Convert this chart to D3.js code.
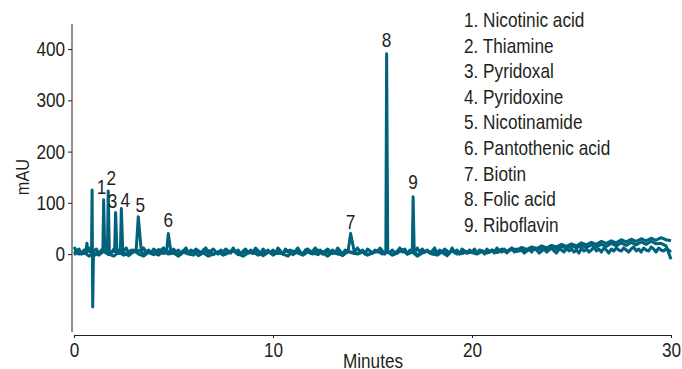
<!DOCTYPE html>
<html lang="en">
<head>
  <meta charset="UTF-8">
  <title>Water-soluble vitamins chromatogram</title>
  <style>
    body {
      margin: 0;
      background: #fff;
      overflow: hidden;
    }

    text {
      font-family: "Liberation Sans", Arial, sans-serif;
      fill: #231f20;
    }

    .axis path, .axis line {
      stroke: #231f20;
      stroke-width: 1px;
    }

    .trace {
      fill: none;
      stroke: #00637b;
      stroke-width: 3px;
      stroke-linejoin: round;
    }
  </style>
</head>
<body>
  <script src="https://d3js.org/d3.v7.min.js"></script>
  <script>
    const width = 682;
    const height = 369;
    const squeeze = 0.86; // the original type is a narrow sans

    // peaks (minutes, mAU)
    const peakLabels = ["1", "2", "3", "4", "5", "6", "7", "8", "9"];
    const peakTimes = [1.49, 1.72, 2.09, 2.38, 3.23, 4.74, 13.9, 15.71, 17.04];
    const peakHeights = [106, 123, 81, 89, 73, 40, 40, 391, 112];
    const peakHalfWidths = [0.04, 0.04, 0.05, 0.05, 0.11, 0.09, 0.13, 0.04, 0.04];

    const compoundNames = [
      "Nicotinic acid", "Thiamine", "Pyridoxal", "Pyridoxine", "Nicotinamide",
      "Pantothenic acid", "Biotin", "Folic acid", "Riboflavin"
    ];

    // injection disturbance
    const injectionTimes = [0.6, 0.65, 0.7, 0.88, 0.91, 0.94, 0.98];
    const injectionValues = [6, 21, 5, 5, 125, -103, 4];

    // baseline of run A, every 0.125 min
    const runA = [
      14, 6, 10, 0, 8, 4, 12, 2, 6, 10, 0, 8, 4, 12, 6, 2, 10, 4, 8, 0,
      6, 12, 2, 8, 4, 10, 0, 6, 12, 4, 8, 2, 10, 6, 0, 8, 12, 4, 6, 2,
      10, 4, 8, 0, 6, 12, 2, 8, 4, 10, 6, 0, 8, 12, 2, 6, 10, 4, 0, 8,
      4, 10, 6, 2, 12, 4, 8, 0, 6, 10, 2, 8, 4, 12, 6, 0, 10, 4, 8, 2,
      8, 2, 12, 6, 0, 10, 4, 8, 2, 6, 12, 4, 0, 8, 10, 2, 6, 12, 4, 8,
      0, 6, 10, 4, 8, 2, 12, 6, 0, 8, 4, 10, 2, 6, 12, 4, 8, 0, 10, 6,
      2, 8, 4, 12, 6, 0, 10, 4, 8, 2, 6, 12, 4, 10, 0, 8, 6, 2, 12, 4,
      10, 4, 8, 2, 6, 12, 0, 8, 4, 10, 6, 2, 12, 4, 8, 0, 10, 6, 2, 8,
      4, 10, 2, 8, 6, 0, 10, 4, 8, 2, 12, 6, 4, 10, 2, 8, 12, 4, 10, 6,
      8, 2, 6, 10, 4, 12, 8, 2, 6, 10, 4, 8, 12, 6, 2, 10, 8, 4, 12, 6,
      10, 4, 8, 2, 12, 6, 10, 4, 8, 14, 6, 10, 4, 12, 8, 2, 10, 6, 12, 8,
      6, 12, 8, 4, 10, 14, 6, 10, 4, 12, 8, 6, 14, 10, 4, 12, 8, 6, 10, 8, 4
    ];

    // runs B and C, every 0.25 min
    const runB = [
      6, 0, 4, -4, 2, -2, 6, 0, -4, 4, -2, 2, 8, 0, -4, 4, 2, -2, 6, 0,
      2, -4, 4, 0, -2, 6, 2, -4, 0, 4, -2, 2, 6, 0, -4, 2, 4, -2, 0, 6,
      -2, 4, 0, -4, 6, 2, -2, 4, 0, 8, 2, -4, 4, 0, -2, 6, 2, 0, 4, -2,
      2, 6, 0, 4, -2, 2, 8, 0, 4, -4, 2, 6, 0, -2, 4, 2, 6, 0, 4, 2,
      4, 1, 7, 3, 8, 5, 10, 6, 11, 8, 13, 9, 14, 11, 16, 12, 17, 14, 19, 15,
      20, 16, 22, 18, 23, 19, 25, 21, 26, 22, 28, 24, 29, 25, 30, 26, 31, 27, 32, 28, 26
    ];
    const runC = [
      -1, 5, 1, 7, -3, 3, 5, -1, 7, 1, 3, -3, 5, 7, 1, 3, -1, 9, 1, 5,
      3, -1, 7, 1, 5, -3, 3, 7, -1, 5, 1, 3, 9, -1, 3, 5, 1, 7, -3, 3,
      5, 1, 3, 7, -1, 5, 1, 9, 3, -1, 5, 3, 1, 7, -3, 5, 3, 1, 7, -1,
      3, 7, 1, 5, -1, 3, 9, 1, 5, -1, 3, 7, 1, 5, 3, -3, 7, 3, 1, 5,
      3, 0, 5, 2, 6, 3, 7, 4, 9, 5, 10, 6, 11, 8, 12, 9, 14, 10, 15, 11,
      16, 12, 17, 13, 18, 14, 19, 15, 21, 16, 22, 17, 23, 18, 24, 19, 25, 20, 21, 16, -10
    ];

    const yTicks = [0, 100, 200, 300, 400];
    const xTicks = [0, 10, 20, 30];

    // label nudges (px) so the crowded labels sit like the original
    const labelDx = [-2, 3, -3, 4, 2, 0, 0, 0, 0];
    const labelDy = [-6, -6, -5, -1, -5, -7, -5, -7, -8];

    const svg = d3.select("body").append("svg")
      .attr("width", width)
      .attr("height", height);

    const x = d3.scaleLinear().domain([0, 30]).range([74, 671]);
    const y = d3.scaleLinear().domain([-152, 449]).range([332, 24]);

    // build run A with the peaks in it
    const windows = peakTimes.map((t, i) => [t - peakHalfWidths[i], t + peakHalfWidths[i] * 1.4]);
    windows.push([injectionTimes[0], injectionTimes[2]]);
    windows.push([injectionTimes[3], injectionTimes[6]]);

    let pointsA = [];
    runA.forEach((v, i) => {
      const t = i * 0.125;
      const inside = windows.some(w => t >= w[0] && t <= w[1]);
      if (!inside) pointsA.push([t, v]);
    });
    peakTimes.forEach((t, i) => {
      pointsA.push([t - peakHalfWidths[i], 5]);
      pointsA.push([t, peakHeights[i]]);
      pointsA.push([t + peakHalfWidths[i] * 1.4, 5]);
    });
    injectionTimes.forEach((t, i) => pointsA.push([t, injectionValues[i]]));
    pointsA.sort((a, b) => a[0] - b[0]);

    const pointsB = runB.map((v, i) => [i * 0.25, v]);
    const pointsC = runC.map((v, i) => [i * 0.25, v]);

    const line = d3.line()
      .x(d => x(d[0]))
      .y(d => y(d[1]));

    svg.selectAll(".trace")
      .data([pointsB, pointsC, pointsA])
      .enter()
      .append("path")
      .attr("class", "trace")
      .attr("d", line);

    // axes
    const yAxis = svg.append("g")
      .attr("class", "axis")
      .attr("transform", "translate(72,0)")
      .call(d3.axisLeft(y).tickValues(yTicks).tickSize(4).tickPadding(4).tickSizeOuter(0));
    yAxis.select(".domain").attr("d", "M0,24V332");
    yAxis.selectAll("text")
      .style("font-size", "20px")
      .attr("transform", `scale(${squeeze},1)`);

    const xAxis = svg.append("g")
      .attr("class", "axis")
      .attr("transform", "translate(0,335)")
      .call(d3.axisBottom(x).tickValues(xTicks).tickSize(3).tickPadding(5).tickSizeOuter(0));
    xAxis.selectAll("text")
      .style("font-size", "20px")
      .attr("transform", `scale(${squeeze},1)`);

    svg.append("text")
      .attr("transform", `translate(29,177) rotate(-90) scale(${squeeze},1)`)
      .attr("text-anchor", "middle")
      .style("font-size", "19px")
      .text("mAU");

    svg.append("text")
      .attr("transform", `translate(373,368) scale(${squeeze},1)`)
      .attr("text-anchor", "middle")
      .style("font-size", "20px")
      .text("Minutes");

    // peak labels
    svg.append("g")
      .selectAll("text")
      .data(peakLabels)
      .enter()
      .append("text")
      .attr("transform", (d, i) =>
        `translate(${x(peakTimes[i]) + labelDx[i]},${y(peakHeights[i]) + labelDy[i]}) scale(${squeeze},1)`)
      .attr("text-anchor", "middle")
      .style("font-size", "20px")
      .text(d => d);

    // legend
    svg.append("g")
      .attr("transform", `translate(464,0) scale(${squeeze},1)`)
      .selectAll("text")
      .data(compoundNames)
      .enter()
      .append("text")
      .attr("x", 0)
      .attr("y", (d, i) => 27 + i * 25.6)
      .style("font-size", "20px")
      .text((d, i) => peakLabels[i] + ". " + d);
  </script>
</body>
</html>
